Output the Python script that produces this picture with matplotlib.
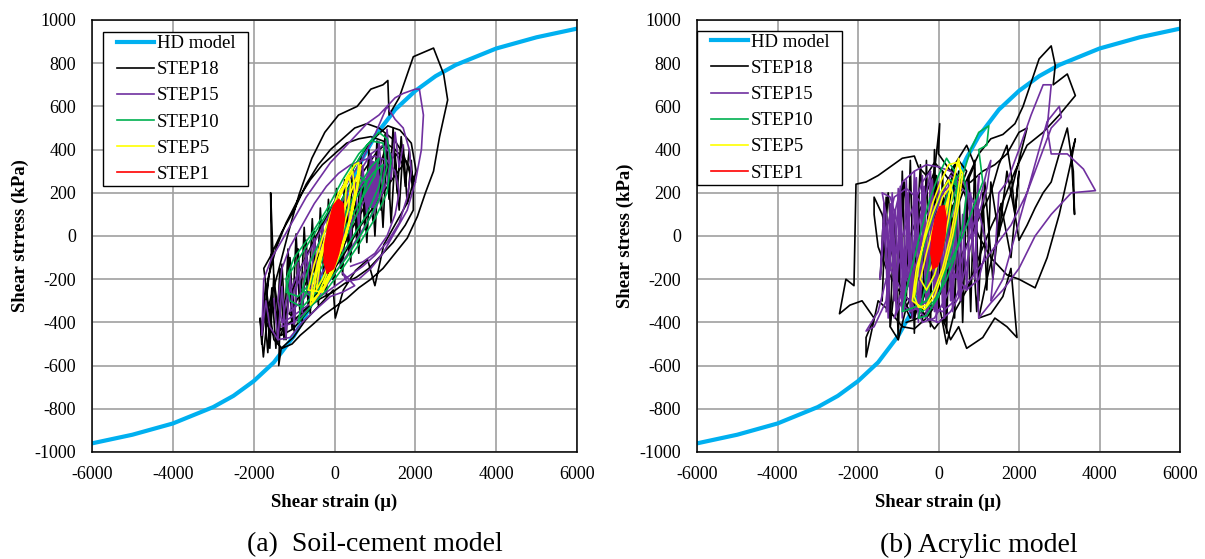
import numpy as np
import matplotlib
matplotlib.use("Agg")
import matplotlib.pyplot as plt
from matplotlib.lines import Line2D
from matplotlib.legend_handler import HandlerLine2D

plt.rcParams['font.family'] = ['Liberation Serif', 'DejaVu Serif']
plt.rcParams['axes.unicode_minus'] = False

# HD model backbone curve
hd_strain = [-6000, -5000, -4000, -3000, -2500, -2000, -1500, -1000, -700, -400, -200, 0,
             200, 400, 700, 1000, 1500, 2000, 2500, 3000, 4000, 5000, 6000]
hd_stress = [-960, -920, -868, -792, -740, -672, -585, -462, -362, -238, -130, 0,
             130, 238, 362, 462, 585, 672, 740, 792, 868, 920, 960]

# ---- (a) soil-cement model: (strain, stress) points ----
a_step18 = [(0, 0), (350, 130), (650, 220), (450, 260), (100, 140), (-300, -60), (-650, -220), (-420, -270),
            (-120, -160), (220, -30), (520, 90), (820, 250), (1100, 310), (1300, 430), (1050, 390), (720, 300),
            (420, 200), (20, 60), (-380, -90), (-820, -260), (-1120, -360), (-920, -390), (-600, -310),
            (-280, -210), (20, -130), (420, 30), (820, 160), (1220, 310), (1520, 380), (1700, 330), (1420, 260),
            (1020, 150), (620, 40), (220, -90), (-220, -210), (-620, -340), (-1020, -430), (-1320, -460),
            (-1120, -290), (-820, -140), (-480, -10), (-80, 130), (320, 270), (720, 390), (1020, 460),
            (1320, 510), (1620, 490), (1900, 430), (2020, 300), (1820, 160), (1520, 60), (1220, -40),
            (1000, -230), (820, -110), (520, -160), (220, -250), (20, -380), (-30, -250), (-320, -310),
            (-720, -390), (-1020, -470), (-1320, -520), (-1380, -600), (-1350, -410), (-1500, -200),
            (-1580, 200), (-1560, -100), (-1700, -300), (-1800, -500), (-1840, -380), (-1760, -560),
            (-1640, -330), (-1400, -170), (-1150, 10), (-880, 190), (-560, 360), (-240, 480), (100, 560),
            (560, 600), (900, 680), (1200, 700), (1320, 720), (1350, 560), (1600, 640), (1950, 830),
            (2450, 870), (2700, 750), (2800, 630), (2600, 460), (2450, 300), (2250, 200), (2050, 90),
            (1800, -10), (1500, -80), (1200, -150), (900, -200), (600, -240), (300, -290), (0, -330),
            (-300, -370), (-600, -420), (-850, -460), (-1050, -500), (-1300, -520), (-1500, -480),
            (-1650, -300), (-1750, -150), (-1600, -100), (-1300, 20), (-1000, 120), (-700, 240),
            (-400, 330), (-100, 400), (200, 450), (500, 500), (800, 520), (1100, 500), (1300, 470),
            (1500, 440), (1700, 380), (1850, 300), (1950, 220), (1950, 120), (1750, 50), (1450, -30),
            (1150, -90), (850, -150), (550, -190), (250, -220), (-50, -260), (-350, -290), (-650, -330),
            (-950, -380), (-1250, -420), (-1500, -460), (-1700, -400), (-1650, -200), (-1450, -60),
            (-1200, 60), (-900, 170), (-600, 260), (-300, 330), (0, 380), (300, 430), (600, 450),
            (900, 460), (1200, 440), (1500, 400), (1800, 340), (2000, 250)]
a_step18_more = [(-1750, -300), (-1650, -540), (-1550, -240), (-1450, -520), (-1350, -150), (-1250, -480),
                 (-1150, -60), (-1050, -430), (-950, 10), (-850, -380), (-750, 40), (-650, -330), (-550, 80),
                 (-450, -290), (-350, 130), (-250, -250), (-150, 170), (-50, -200), (50, 220), (150, -150),
                 (250, 260), (350, -80), (450, 330), (550, -30), (650, 370), (750, 30), (850, 400), (950, 70),
                 (1050, 440), (1150, 120), (1250, 470), (1350, 170), (1450, 500), (1550, 200), (1650, 460),
                 (1750, 230), (1850, 400), (1950, 200), (1900, 350), (1800, 150), (1700, 420), (1600, 120),
                 (1500, 380), (1400, 60), (1300, 420), (1200, 40), (1100, 360), (1000, 0), (900, 330),
                 (800, -30), (700, 300), (600, -80), (500, 260), (400, -120), (300, 210), (200, -180),
                 (100, 160), (0, -230), (-100, 120), (-200, -280), (-300, 60), (-400, -320), (-500, 20),
                 (-600, -360), (-700, -20), (-800, -400), (-900, -60), (-1000, -440), (-1100, -100),
                 (-1200, -480), (-1300, -130), (-1400, -500), (-1500, -180), (-1600, -520), (-1700, -220),
                 (-1800, -420)]

a_step15 = [(0, 0), (300, 100), (600, 220), (900, 300), (1100, 330), (1000, 250), (700, 150), (400, 50),
            (0, -80), (-400, -200), (-800, -300), (-1100, -350), (-1000, -250), (-700, -150), (-300, 0),
            (100, 130), (500, 260), (900, 380), (1200, 420), (1400, 380), (1300, 250), (1000, 120), (600, 0),
            (200, -120), (-200, -230), (-600, -330), (-1000, -400), (-1300, -420), (-1200, -300),
            (-900, -170), (-500, -30), (-100, 110), (300, 240), (700, 360), (1000, 470), (1300, 600),
            (1500, 640), (1700, 660), (2000, 680), (2100, 680), (2200, 560), (2150, 400), (2000, 250),
            (1800, 120), (1500, 20), (1200, -80), (900, -150), (600, -200), (300, -210), (200, -170),
            (500, -230), (200, -260), (-100, -280), (-400, -330), (-800, -400), (-1100, -470), (-1400, -480),
            (-1600, -420), (-1700, -300), (-1800, -460), (-1750, -200), (-1550, -100), (-1300, -20),
            (-1000, 80), (-700, 180), (-400, 260), (-100, 340), (200, 400), (500, 460), (800, 520),
            (1100, 560), (1300, 600), (1500, 540), (1700, 500), (1850, 400), (1900, 300), (1800, 180),
            (1600, 60), (1300, -30), (1000, -90), (700, -140), (400, -180), (100, -220), (-200, -260),
            (-500, -300), (-800, -340), (-1100, -380), (-1300, -400), (-1400, -300), (-1300, -150),
            (-1100, -50), (-800, 50), (-500, 150), (-200, 230), (100, 290), (400, 330), (700, 350),
            (1000, 370), (1300, 350), (1500, 300), (1600, 200), (1500, 100), (1300, 0), (1000, -80),
            (700, -120), (400, -140)]
a_step15_more = [(-1500, -290), (-1400, -480), (-1300, -234), (-1200, -466), (-1100, -178), (-1000, -410),
                 (-900, -122), (-800, -354), (-700, -66), (-600, -298), (-500, -10), (-400, -242),
                 (-300, 46), (-200, -186), (-100, 102), (0, -130), (100, 158), (200, -74), (300, 214),
                 (400, -18), (500, 270), (600, 38), (700, 326), (800, 94), (900, 382), (1000, 150),
                 (1100, 438), (1200, 206), (1300, 494), (1400, 262), (1500, 480), (1600, 318), (1700, 420)]
a_step15_core = [(720, 170), (800, 290), (920, 350), (1060, 340), (1140, 260), (1100, 180), (980, 130),
                 (840, 130)]

a_step10 = [(0, 0), (300, 120), (600, 230), (900, 320), (1100, 360), (1000, 280), (700, 180), (300, 50),
            (-100, -80), (-500, -200), (-900, -280), (-1200, -260), (-1100, -170), (-800, -80), (-400, 40),
            (0, 160), (400, 290), (800, 420), (1100, 480), (1300, 450), (1400, 350), (1300, 200), (1000, 80),
            (600, -40), (200, -150), (-200, -250), (-600, -330), (-900, -400), (-800, -300), (-500, -180),
            (-100, -40), (300, 100), (700, 230), (1000, 300), (1200, 330), (1100, 230), (800, 100),
            (400, -20), (0, -140), (-400, -250), (-800, -330), (-1100, -300), (-1200, -200), (-1000, -100),
            (-600, 0), (-200, 120), (200, 260), (600, 380), (900, 440), (1200, 430), (1300, 320),
            (1100, 170), (700, 20), (300, -100), (-100, -200), (-500, -290), (-800, -250), (-600, -120),
            (-300, 0), (0, 100), (300, 210), (600, 280), (800, 250), (600, 120), (300, 0), (0, -100),
            (-300, -200), (-600, -260)]

a_step5 = [(0, 0), (200, 100), (400, 200), (600, 300), (650, 330), (600, 250), (450, 120), (250, -20),
           (0, -130), (-250, -230), (-500, -300), (-600, -320), (-550, -230), (-400, -110), (-200, 10),
           (0, 120), (200, 220), (350, 280), (400, 240), (350, 130), (200, 20), (0, -80), (-200, -180),
           (-400, -270), (-550, -300), (-450, -180), (-300, -60), (-100, 60), (100, 170), (300, 270),
           (500, 330), (600, 340), (550, 220), (400, 80), (200, -50), (-50, -170), (-300, -260),
           (-650, -250), (-500, -130), (-300, -10), (-100, 100), (100, 200), (300, 250), (250, 120),
           (100, 0), (-100, -110), (-300, -200), (-450, -250), (-350, -120), (-150, 20), (50, 150),
           (250, 230), (450, 300), (500, 200), (350, 60), (150, -60), (-50, -150), (-250, -220)]

a_step1 = [(-180, -170), (-260, -120), (-240, -40), (-150, 50), (-30, 140), (100, 170), (210, 150),
           (240, 80), (190, 0), (100, -80), (-20, -150), (-180, -170)]

# ---- (b) acrylic model ----
b_step18 = [(0, 0), (400, 150), (700, 300), (500, 350), (200, 250), (-200, 50), (-600, -150), (-900, -300),
            (-700, -380), (-400, -300), (-100, -150), (300, 50), (600, 200), (900, 330), (700, 420),
            (300, 300), (0, 380), (30, 520), (-100, 300), (-400, 150), (-800, -50), (-1100, -250),
            (-1200, -420), (-1000, -480), (-800, -330), (-500, -200), (-100, -50), (300, 120), (700, 260),
            (1000, 380), (1300, 450), (1600, 470), (1900, 520), (2100, 600), (2500, 820), (2800, 880),
            (2900, 790), (2850, 700), (3200, 750), (3400, 650), (3000, 560), (2600, 480), (2200, 420),
            (1900, 300), (1600, 160), (1300, 40), (1000, -100), (700, -250), (400, -350), (200, -500),
            (0, -300), (-300, -380), (-600, -430), (-900, -420), (-1200, -350), (-1500, -300),
            (-1800, -560), (-1800, -470), (-1600, -380), (-1900, -300), (-2200, -320), (-2460, -360),
            (-2400, -300), (-2300, -200), (-2100, -230), (-2050, 240), (-1800, 250), (-1500, 280),
            (-1200, 320), (-900, 360), (-600, 370), (-500, 320), (-300, 280), (-100, 340), (100, 300),
            (300, 250), (500, 220), (800, 250), (1100, 300), (1400, 330), (1700, 380), (2000, 480),
            (2200, 500), (2000, 350), (1800, 200), (1600, 80), (1400, -50), (1200, -200), (1000, -380),
            (1300, -360), (1600, -280), (1800, -150), (1950, -470), (1700, -420), (1400, -380),
            (1100, -470), (700, -520), (500, -420), (300, -480), (100, -380), (-100, -430), (-400, -350),
            (-700, -300), (-1000, -250), (-1300, -150), (-1500, -50), (-1600, 100), (-1600, 180),
            (-1400, 100), (-1200, -50), (-1000, -200), (-800, -320), (-600, -380), (-400, -260),
            (-200, -100), (0, 50), (200, 200), (400, 300), (600, 230), (800, 100), (1000, 0), (1300, -100),
            (1700, -180), (2000, -200), (2400, -240), (2700, -100), (3000, 100), (3300, 350), (3400, 450),
            (3300, 380), (3380, 100), (3350, 300), (3200, 500), (3000, 380), (2800, 250), (2600, 200),
            (2400, 130), (2200, 50), (2000, -20), (1900, 100), (1800, 300), (1700, 420), (1500, 330),
            (1300, 200), (1000, 80), (700, -40), (400, -150), (100, -250), (-200, -340), (-500, -380),
            (-800, -400)]
b_step18_more = [(-1400, -300), (-1300, 180), (-1200, -420), (-1100, 100), (-1000, -480), (-900, 300),
                 (-800, -300), (-700, 350), (-600, -450), (-500, 200), (-400, -400), (-300, 350),
                 (-200, -420), (-100, 400), (0, -350), (100, 300), (200, -450), (300, 250), (400, -380),
                 (500, 300), (600, -400), (700, 200), (800, -350), (900, 350), (1000, -300), (1100, 200),
                 (1200, -250), (1300, 250), (1500, 0), (1700, 300), (1900, 100), (2000, 300), (1800, -100),
                 (1550, 150), (1350, -200), (1150, 250), (950, -350), (750, 280), (550, -300), (350, 320),
                 (150, -400), (-50, 280), (-250, -350), (-450, 330), (-650, -380), (-850, 250),
                 (-1050, -300), (-1250, 200), (-1450, -200), (-1350, 150)]

b_step15 = [(0, 0), (300, 150), (500, 250), (300, 280), (0, 150), (-300, 0), (-600, -150), (-900, -300),
            (-1100, -380), (-900, -250), (-700, -100), (-500, 50), (-300, 200), (-200, 300), (-400, 250),
            (-700, 100), (-1000, -50), (-1300, -200), (-1500, -350), (-1800, -440), (-1600, -420),
            (-1300, -300), (-1200, -100), (-1300, 100), (-1400, 200), (-1200, 180), (-1000, 50),
            (-800, -150), (-600, -300), (-400, -400), (-100, -380), (200, -280), (500, -150), (800, 0),
            (1000, 150), (1200, 300), (1300, 350), (1200, 220), (1000, 100), (800, -50), (600, -200),
            (400, -300), (100, -350), (-200, -330), (-500, -280), (-800, -200), (-1000, -100), (-1100, 100),
            (-900, 250), (-600, 300), (-300, 330), (0, 320), (300, 300), (600, 250), (900, 150),
            (1000, -380), (1300, -310), (1600, -250), (2000, -150), (2400, 0), (2800, 100), (3300, 200),
            (3900, 210), (3600, 310), (3200, 380), (2800, 380), (2700, 500), (2800, 700), (2600, 700),
            (2300, 560), (2000, 400), (1700, 250), (1500, 200), (1400, -100), (1300, -300), (1600, -200),
            (1900, 0), (2200, 200), (2500, 400), (2700, 530), (3000, 600), (3050, 550), (2800, 500),
            (2500, 350), (2200, 200), (1800, 50), (1400, -50), (1000, -150), (600, -250), (300, -350),
            (0, -400), (-300, -380), (-600, -330), (-900, -260), (-1200, -150), (-1300, 20), (-1100, 180),
            (-800, 220), (-500, 170), (-200, 80), (100, -50), (400, -180), (700, -250), (1000, -200),
            (1200, -50), (1000, 120), (700, 200), (400, 250), (100, 200), (-200, 100), (-500, -50),
            (-800, -200), (-1000, -300), (-700, -350), (-400, -320), (-100, -250), (200, -150), (500, -50),
            (800, 100)]
b_step15_more = [(-1300, -350), (-1200, 150), (-1100, -300), (-1000, 220), (-900, -380), (-800, 260),
                 (-700, -350), (-600, 300), (-500, -400), (-400, 280), (-300, -380), (-200, 300),
                 (-100, -350), (0, 250), (100, -330), (200, 200), (300, -300), (400, 150), (500, -280),
                 (600, 100), (700, -250), (800, 200), (900, -200), (1000, 280), (900, -150), (700, 250),
                 (550, -300), (450, 220), (350, -350), (250, 250), (150, -380), (50, 200), (-50, -400),
                 (-150, 260), (-250, -350), (-350, 230), (-450, -330), (-550, 270), (-650, -380),
                 (-750, 200), (-850, -300), (-950, 230), (-1050, -350), (-1150, 100), (-1250, -250),
                 (-1350, 50), (-1450, -200), (-1350, 150), (-1250, -380), (-1150, 200), (-1050, -250),
                 (-950, 100), (-850, -350), (-750, 150), (-650, -300), (-550, 200), (-450, -250),
                 (-350, 180), (-250, -300), (-150, 150), (-50, -250)]

b_step10 = [(0, 0), (300, 150), (600, 280), (800, 400), (1000, 480), (1250, 510), (1200, 420), (1000, 400),
            (1100, 250), (900, 150), (600, 0), (300, -120), (0, -220), (-300, -300), (-600, -330),
            (-900, -350), (-800, -250), (-600, -100), (-400, 50), (-200, 180), (0, 280), (200, 360),
            (400, 300), (500, 150), (400, 0), (200, -150), (0, -280), (-300, -370), (-500, -380),
            (-350, -250), (-200, -100), (0, 50), (200, 180), (400, 260), (600, 300), (700, 200), (600, 50),
            (400, -100), (200, -200), (-100, -300), (-400, -350), (-600, -300), (-500, -150), (-300, 0),
            (-100, 120), (100, 220), (300, 260), (500, 220), (300, 80), (100, -60), (-100, -180),
            (-300, -260)]

b_step5 = [(0, 0), (200, 150), (400, 280), (500, 360), (550, 300), (450, 150), (300, 0), (100, -150),
           (-100, -250), (-300, -320), (-500, -330), (-600, -280), (-500, -150), (-350, 0), (-150, 150),
           (50, 250), (250, 330), (450, 340), (600, 290), (500, 150), (350, 0), (150, -150), (-100, -280),
           (-350, -340), (-650, -300), (-550, -150), (-350, -20), (-150, 100), (50, 200), (250, 260),
           (350, 200), (250, 80), (100, -50), (-100, -180), (-300, -250), (-450, -200), (-300, -80),
           (-100, 60), (100, 180), (300, 230), (200, 100), (0, -40), (-200, -160)]

b_step1 = [(-140, -150), (-190, -80), (-160, 0), (-80, 80), (30, 135), (140, 140), (190, 80), (160, 0),
           (80, -80), (-30, -140), (-140, -150)]

c_hd = '#00b0f0'
c18, c15, c10, c5, c1 = 'black', '#7030a0', '#00b050', '#ffff00', '#ff0000'

fig = plt.figure(figsize=(12.05, 5.59), dpi=100)


def line(ax, pts, col, lab=None):
    p = np.array(pts)
    ax.plot(p[:, 0], p[:, 1], color=col, lw=1.2, label=lab, zorder=3)


def draw(ax, s18, s18m, s15, s15m, s10, s5, s1, core15, ylabel, leg_x, leg_y):
    ax.plot(hd_strain, hd_stress, color=c_hd, lw=3.0, label='HD model  ', zorder=2)
    line(ax, s18, c18, 'STEP18')
    line(ax, s18m, c18)
    line(ax, s15, c15, 'STEP15')
    line(ax, s15m, c15)
    if core15 is not None:
        q = np.array(core15)
        ax.fill(q[:, 0], q[:, 1], color=c15, lw=0, zorder=3)
    line(ax, s10, c10, 'STEP10')
    line(ax, s5, c5, 'STEP5')
    line(ax, s1, c1, 'STEP1')
    q = np.array(s1)
    ax.fill(q[:, 0], q[:, 1], color=c1, lw=0, zorder=3)
    ax.set_xlim(-6000, 6000)
    ax.set_ylim(-1000, 1000)
    ax.set_xticks(np.arange(-6000, 6001, 2000))
    ax.set_yticks(np.arange(-1000, 1001, 200))
    ax.grid(True, color='#a0a0a0', lw=1.2)
    ax.set_axisbelow(True)
    ax.tick_params(length=0, labelsize=13)
    ax.tick_params(axis='x', pad=10)
    ax.tick_params(axis='y', pad=11.5)
    for s in ax.spines.values():
        s.set_color('black')
        s.set_linewidth(1.1)
    ax.set_xlabel('Shear strain (\u03bc)', fontsize=13.5, fontweight='bold', labelpad=8)
    ax.set_ylabel(ylabel, fontsize=13.5, fontweight='bold', labelpad=4)
    leg = ax.legend(loc='upper left', bbox_to_anchor=(leg_x, leg_y), borderaxespad=0,
                    fontsize=13.5, fancybox=False, framealpha=1, edgecolor='black',
                    handlelength=2.56, handletextpad=0.16, labelspacing=0.48, borderpad=0.16,
                    handler_map={Line2D: HandlerLine2D(xpad=0.59)})
    leg.get_frame().set_linewidth(1.0)


ax1 = fig.add_axes([92 / 1205, 107 / 559, 485 / 1205, 432 / 559])
ax2 = fig.add_axes([697 / 1205, 107 / 559, 483 / 1205, 432 / 559])
draw(ax1, a_step18, a_step18_more, a_step15, a_step15_more, a_step10, a_step5, a_step1, a_step15_core,
     'Shear strress (kPa)', 0.022, 0.972)
draw(ax2, b_step18, b_step18_more, b_step15, b_step15_more, b_step10, b_step5, b_step1, None,
     'Shear stress (kPa)', 0.0, 0.975)

fig.text(247 / 1205, 1 - 545 / 559, '(a)  Soil-cement model', ha='left', va='center', fontsize=20)
fig.text(880 / 1205, 1 - 545 / 559, '(b) Acrylic model', ha='left', va='center', fontsize=20)

fig.savefig('out.png', dpi=100)
